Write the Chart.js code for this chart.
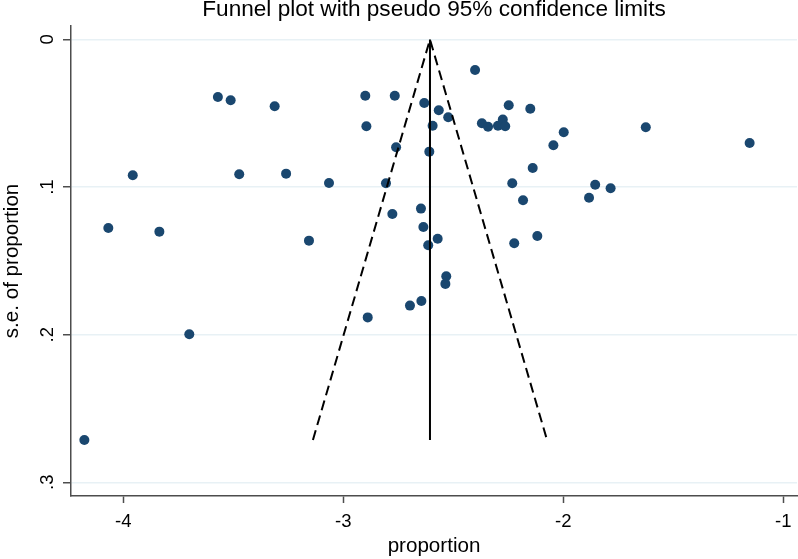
<!DOCTYPE html>
<html>
<head>
<meta charset="utf-8">
<script src="https://cdn.jsdelivr.net/npm/chart.js@4/dist/chart.umd.min.js"></script>
<style>
  body { margin: 0; background: #fff; }
  canvas { display: block; }
</style>
</head>
<body>
<canvas id="funnel" width="798" height="559"></canvas>
<script>
// study estimates (x = proportion on logit scale, y = its standard error)
const proportion = [
    -4.177, -4.068, -3.957, -3.836, -3.700, -3.570, -3.512, -3.473, -3.312, -3.260,
    -3.156, -3.065, -2.900, -2.895, -2.889, -2.806, -2.777, -2.766, -2.760, -2.697,
    -2.647, -2.645, -2.636, -2.632, -2.614, -2.609, -2.594, -2.571, -2.566, -2.536,
    -2.532, -2.523, -2.401, -2.370, -2.342, -2.297, -2.275, -2.264, -2.248, -2.232,
    -2.223, -2.183, -2.150, -2.139, -2.118, -2.045, -1.998, -1.883, -1.855, -1.785,
    -1.625, -1.153
];
const seProportion = [
    0.2713, 0.1277, 0.0920, 0.1302, 0.1997, 0.0390, 0.0412, 0.0913, 0.0453, 0.0909,
    0.1363, 0.0972, 0.0381, 0.0588, 0.1883, 0.0974, 0.1182, 0.0381, 0.0730, 0.1803,
    0.1146, 0.1772, 0.1270, 0.0430, 0.1394, 0.0760, 0.0584, 0.1350, 0.0480, 0.1656,
    0.1604, 0.0527, 0.0207, 0.0568, 0.0591, 0.0584, 0.0543, 0.0588, 0.0446, 0.0974,
    0.1381, 0.1089, 0.0469, 0.0871, 0.1331, 0.0717, 0.0629, 0.1072, 0.0984, 0.1008,
    0.0595, 0.0701
];

// pooled estimate line and pseudo 95% limits
const pooledX = [-2.606, -2.606];
const pooledY = [0, 0.2713];
const limitX = [-3.138, -2.606, -2.074];
const limitY = [0.2713, 0, 0.2713];

const xTicks = [-4, -3, -2, -1];
const yTicks = [0, 0.1, 0.2, 0.3];

const FONT = "'Liberation Sans', Arial, sans-serif";
const AXIS_GREY = "#4d4d4d";

function toPoints(xs, ys) {
    return xs.map((x, i) => ({ x: x, y: ys[i] }));
}

function stataLabel(v) {
    if (v === 0) return "0";
    return String(v).replace(/^0\./, ".");
}

// y tick labels are rotated like in Stata
const rotatedYLabels = {
    id: "rotatedYLabels",
    afterDraw(chart) {
        const scale = chart.scales.y;
        const ctx = chart.ctx;
        ctx.save();
        ctx.fillStyle = "#000";
        ctx.font = "18.5px " + FONT;
        ctx.textAlign = "center";
        ctx.textBaseline = "alphabetic";
        scale.ticks.forEach((t) => {
            const y = scale.getPixelForValue(t.value);
            ctx.save();
            ctx.translate(52.5, y);
            ctx.rotate(-Math.PI / 2);
            ctx.fillText(stataLabel(t.value), 0, 0);
            ctx.restore();
        });
        ctx.restore();
    }
};

const ctx = document.getElementById("funnel").getContext("2d");
new Chart(ctx, {
    type: "scatter",
    data: {
        datasets: [
            {
                label: "limits",
                data: toPoints(limitX, limitY),
                showLine: true,
                borderColor: "#000",
                borderWidth: 2,
                borderDash: [10, 5.5],
                pointRadius: 0,
                fill: false
            },
            {
                label: "pooled",
                data: toPoints(pooledX, pooledY),
                showLine: true,
                borderColor: "#000",
                borderWidth: 2,
                pointRadius: 0,
                fill: false
            },
            {
                label: "studies",
                data: toPoints(proportion, seProportion),
                pointRadius: 5,
                pointBackgroundColor: "#1a476f",
                pointBorderWidth: 0,
                pointHoverRadius: 5
            }
        ]
    },
    options: {
        responsive: false,
        animation: false,
        layout: { autoPadding: false, padding: { left: 0, right: 1, top: 0, bottom: 0 } },
        plugins: {
            legend: { display: false },
            tooltip: { enabled: false },
            title: {
                display: true,
                text: "Funnel plot with pseudo 95% confidence limits",
                color: "#000",
                fullSize: false,
                font: { family: FONT, size: 22.6, weight: "normal", lineHeight: 0.88 },
                padding: { top: 0, bottom: 6 }
            }
        },
        scales: {
            x: {
                type: "linear",
                min: -4.2377,
                max: -0.9377,
                afterBuildTicks: (scale) => {
                    scale.ticks = xTicks.map((v) => ({ value: v }));
                },
                afterFit: (scale) => {
                    scale.height = 63;
                    scale.paddingLeft = 0;
                    scale.paddingRight = 0;
                },
                grid: {
                    drawOnChartArea: false,
                    drawTicks: true,
                    tickLength: 7,
                    tickColor: AXIS_GREY,
                    tickWidth: 1.5
                },
                border: { display: true, color: AXIS_GREY, width: 1.5 },
                ticks: {
                    color: "#000",
                    font: { family: FONT, size: 18.5 },
                    padding: 8,
                    maxRotation: 0,
                    callback: (v) => String(v)
                },
                title: {
                    display: true,
                    text: "proportion",
                    color: "#000",
                    font: { family: FONT, size: 20.6 },
                    padding: 0
                }
            },
            y: {
                type: "linear",
                reverse: true,
                min: -0.0092,
                max: 0.3093,
                afterBuildTicks: (scale) => {
                    scale.ticks = yTicks.map((v) => ({ value: v }));
                },
                afterFit: (scale) => {
                    scale.width = 71;
                    scale.paddingTop = 0;
                    scale.paddingBottom = 0;
                },
                grid: {
                    color: "#e8f1f5",
                    lineWidth: 1.5,
                    drawTicks: true,
                    tickLength: 8,
                    tickColor: AXIS_GREY,
                    tickWidth: 1.5
                },
                border: { display: true, color: AXIS_GREY, width: 1.5 },
                ticks: { display: false },
                title: {
                    display: true,
                    text: "s.e. of proportion",
                    color: "#000",
                    font: { family: FONT, size: 20.6 },
                    padding: 0
                }
            }
        }
    },
    plugins: [rotatedYLabels]
});
</script>
</body>
</html>
